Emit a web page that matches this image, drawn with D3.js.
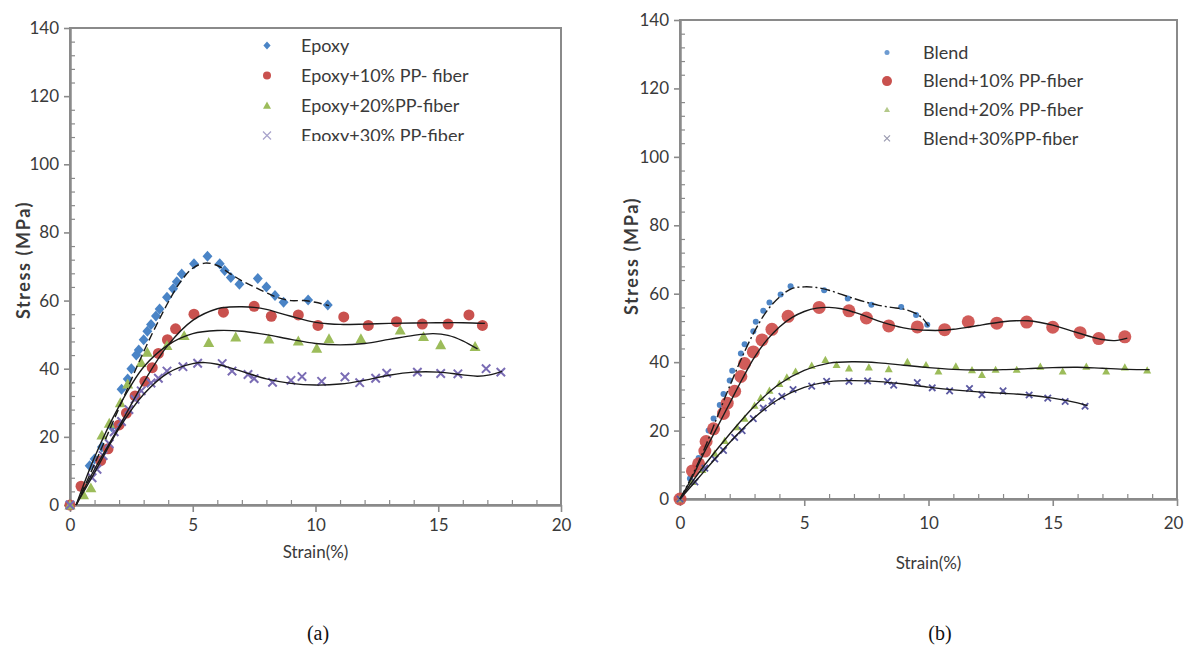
<!DOCTYPE html>
<html>
<head>
<meta charset="utf-8">
<script src="https://cdn.jsdelivr.net/npm/d3@7"></script>
<style>
  html, body { margin: 0; padding: 0; background: #fff; }
  svg { display: block; }
</style>
</head>
<body>
<svg id="chart" width="1185" height="646"></svg>
<script>
// ---------------- DATA ----------------
const xTicks = [0, 5, 10, 15, 20];
const yTicks = [0, 20, 40, 60, 80, 100, 120, 140];

// Panel (a) measured points  [strain %, stress MPa]
const epoxy = [[0,0],[0.8,11.5],[1.0,13.5],[1.3,17],[1.7,23],[2.1,34],[2.35,37],[2.5,40],[2.7,44],[2.8,45.5],[3.0,48.5],[3.15,51],[3.3,53],[3.5,55.5],[3.65,57.5],[3.95,61],[4.2,63.5],[4.35,65.5],[4.55,67.8],[5.05,70.8],[5.6,73],[6.1,70.8],[6.3,68.8],[6.55,66.8],[6.9,64.8],[7.65,66.5],[8.0,64],[8.35,61.5],[8.7,59.5],[9.7,60.2],[10.5,58.7]];
const epoxy10 = [[0,0],[0.45,5.5],[1.25,13],[1.55,16.5],[2.0,23.5],[2.3,27],[2.65,32],[3.05,36.3],[3.35,40.3],[3.6,44.5],[3.97,48.5],[4.3,51.7],[5.05,56],[6.25,56.6],[7.5,58.3],[8.2,55.4],[9.3,55.8],[10.1,52.7],[11.15,55.2],[12.15,52.7],[13.3,53.8],[14.35,53.1],[15.4,53.1],[16.25,55.8],[16.8,52.7]];
const epoxy20 = [[0,0],[0.55,3],[0.85,5],[1.3,20.5],[1.6,24],[2.05,30],[2.35,35.5],[2.9,41.8],[3.15,44.8],[3.95,46.8],[4.65,49.7],[5.65,47.7],[6.75,49.3],[8.1,48.7],[9.3,48.1],[10.05,46],[10.55,48.8],[11.85,48.8],[13.45,51.3],[14.4,49.4],[15.1,47],[16.5,46.5]];
const epoxy30 = [[0,0],[0.9,8],[1.1,10.5],[1.35,14.5],[1.6,18],[1.8,21.5],[2.1,24.5],[2.4,28],[2.65,31],[2.9,33.5],[3.3,35.8],[3.6,37.2],[3.95,39.3],[4.6,40.6],[5.2,41.6],[6.2,41.5],[6.6,39.3],[7.25,38.3],[7.5,37.1],[8.25,36],[9.0,36.6],[9.45,37.7],[10.25,36.3],[11.2,37.6],[11.8,35.9],[12.45,37.2],[12.9,38.7],[14.15,39],[15.1,38.6],[15.8,38.5],[16.95,40],[17.55,39]];

// Panel (a) trend lines
const epoxyFit = [[0.25,0],[1,12],[2,28.5],[3,45],[3.5,52.5],[4,59.5],[4.5,65.5],[5,69.5],[5.5,71],[6,70.3],[6.5,68],[7,65.8],[7.5,64],[8,62.3],[8.5,60.8],[9,60],[9.5,60],[10,59.5],[10.55,58.5]];
const epoxy10Fit = [[0.25,0],[1,10.5],[2,23],[3,36],[4,47],[5,54.2],[6,57.6],[6.5,58.1],[7,58.2],[7.5,58],[8,57.4],[8.5,56.4],[9,55.4],[9.5,54.4],[10,53.6],[10.5,53.2],[11,53],[12,53.1],[13,53.3],[14,53.4],[15,53.5],[16,53.5],[16.9,53.3]];
const epoxy20Fit = [[0.25,0],[1,14],[2,29],[3,40.5],[4,47],[5,50.3],[6,51.2],[7,51],[8,50],[9,48.6],[10,47.4],[11,47],[12,47.4],[13,48.6],[14,49.8],[14.8,50.3],[15.4,49.8],[16,48.2],[16.6,45.8]];
const epoxy30Fit = [[0.25,0],[1,9.5],[2,22.5],[3,32.5],[4,38.8],[5,41.5],[5.5,41.8],[6,41.3],[7,39.2],[8,37],[9,35.7],[10,35.2],[11,35.5],[12,36.6],[13,38.1],[14,39],[15,39],[16,38.2],[16.6,37.8],[17.1,38.2],[17.6,39.2]];

// Panel (b) measured points
const blend = [[0,0],[0.4,6],[0.75,12],[1.15,20],[1.35,23.5],[1.6,27.5],[1.75,30.7],[2.0,34.6],[2.1,37.5],[2.45,42.5],[2.6,45.2],[2.95,49],[3.05,51.8],[3.35,55],[3.6,57.4],[4.05,59.8],[4.45,62.2],[5.8,61],[6.75,58.6],[7.7,56.8],[8.9,56.1],[9.5,53.8],[9.95,50.9]];
const blend10 = [[0,0],[0.5,8.2],[0.75,10.3],[1.0,14],[1.05,16.8],[1.35,20.5],[1.75,25],[1.9,28],[2.2,31.5],[2.45,35.8],[2.6,39.6],[2.95,43],[3.3,46.5],[3.7,49.6],[4.35,53.4],[5.6,56],[6.8,55],[7.5,52.9],[8.4,50.6],[9.55,50.3],[10.65,49.5],[11.6,51.8],[12.75,51.4],[13.95,51.7],[15.0,50.2],[16.1,48.6],[16.85,46.9],[17.9,47.4]];
const blend20 = [[0,0],[0.5,5],[0.9,8.5],[1.4,13.3],[1.8,17],[2.3,21],[2.6,23.5],[3.0,27.3],[3.25,29.6],[3.6,31.7],[4.0,33.7],[4.3,35.6],[4.65,37.3],[5.3,39],[5.85,40.7],[6.3,39.2],[6.8,38.2],[7.6,38.5],[8.4,38],[9.15,40.1],[9.9,39.2],[10.4,37.3],[11.1,38.8],[11.75,37.7],[12.15,36.3],[12.7,37.8],[13.55,37.8],[14.5,38.7],[15.4,37.3],[16.35,38.7],[17.15,37.3],[17.9,38.5],[18.8,37.6]];
const blend30 = [[0,0],[0.6,5],[1.0,9],[1.4,11.7],[1.75,14.2],[2.2,18],[2.5,20],[2.95,23.5],[3.35,26.6],[3.7,28.6],[4.1,30],[4.55,32],[5.3,33],[5.9,34.4],[6.8,34.4],[7.55,34.5],[8.35,34.4],[8.6,33.3],[9.55,34],[10.15,32.5],[10.85,31.6],[11.65,32.3],[12.15,30.5],[13.0,31.6],[14.05,30.4],[14.8,29.5],[15.5,28.5],[16.3,27.1]];

// Panel (b) trend lines
const blendFit = [[0,0],[0.5,7],[1,15],[1.5,24],[2,33],[2.5,41.5],[3,49],[3.5,55],[4,59],[4.5,61.5],[5,62],[5.5,61.8],[6,61],[6.5,59.8],[7,58.6],[7.5,57.5],[8,56.6],[8.5,56],[9,55.5],[9.5,54.2],[9.8,52.5],[10,50.5]];
const blend10Fit = [[0,0],[0.5,6.5],[1,14],[1.5,21],[2,28],[2.5,35],[3,41.5],[3.5,46.5],[4,50.3],[4.5,53],[5,54.8],[5.5,55.8],[6,56],[6.5,55.6],[7,54.6],[7.5,53.4],[8,52],[8.5,50.9],[9,50],[9.5,49.5],[10,49.3],[10.5,49.3],[11,49.6],[11.5,50.1],[12,50.7],[12.5,51.3],[13,51.8],[13.5,52.1],[14,52.1],[14.5,51.6],[15,50.8],[15.5,49.7],[16,48.6],[16.5,47.5],[17,46.6],[17.5,46.3],[18,47]];
const blend20Fit = [[0,0],[1,10],[2,19],[3,27.2],[4,33.6],[5,37.6],[6,39.7],[7,40.1],[8,39.8],[9,39.1],[10,38.4],[11,37.9],[12,37.7],[13,37.8],[14,38.1],[15,38.4],[16,38.5],[17,38.2],[18,37.9],[18.9,37.8]];
const blend30Fit = [[0,0],[1,8.3],[2,16.5],[3,23.8],[4,29.3],[5,32.6],[6,34.3],[7,34.6],[8,34.3],[9,33.6],[10,32.7],[11,31.9],[12,31.3],[13,30.9],[14,30.4],[15,29.5],[16,28.1],[16.4,27.3]];

const labelsA = ["Epoxy", "Epoxy+10% PP- fiber", "Epoxy+20%PP-fiber", "Epoxy+30% PP-fiber"];
const labelsB = ["Blend", "Blend+10% PP-fiber", "Blend+20% PP-fiber", "Blend+30%PP-fiber"];

// ---------------- DRAW ----------------
const svg = d3.select("#chart");
const FONT = "Lato, 'Open Sans', sans-serif";
const AXIS = "#8a8a8a";
const TXT = "#3a3a3a";

function markerPath(type, s) {
  if (type === "diamond") return `M0,${-s}L${s*0.9},0L0,${s}L${-s*0.9},0Z`;
  if (type === "triangle") return `M0,${-s}L${s},${s*0.8}L${-s},${s*0.8}Z`;
  if (type === "x") return `M${-s},${-s}L${s},${s}M${s},${-s}L${-s},${s}`;
  return null;
}

function drawMarker(g, type, cx, cy, st) {
  if (type === "circle") {
    g.append("circle").attr("cx", cx).attr("cy", cy).attr("r", st.size)
      .attr("fill", st.color).attr("fill-opacity", st.opacity || 1);
  } else if (type === "x") {
    g.append("path").attr("transform", `translate(${cx},${cy})`)
      .attr("d", markerPath("x", st.size)).attr("stroke", st.color)
      .attr("stroke-width", st.sw || 2).attr("fill", "none");
  } else {
    g.append("path").attr("transform", `translate(${cx},${cy})`)
      .attr("d", markerPath(type, st.size)).attr("fill", st.color)
      .attr("fill-opacity", st.opacity || 1);
  }
}

function drawPanel(p) {
  const x = d3.scaleLinear().domain([0, 20]).range([p.x0, p.x1]);
  const y = d3.scaleLinear().domain([0, 140]).range([p.y0, p.y1]);
  const g = svg.append("g");

  // frame
  g.append("rect").attr("x", p.x0).attr("y", p.y1)
    .attr("width", p.x1 - p.x0).attr("height", p.y0 - p.y1)
    .attr("fill", "none").attr("stroke", AXIS).attr("stroke-width", 2);

  // minor ticks (inside)
  const xMinor = d3.range(1, 20).filter(v => v % 5 !== 0);
  const yMinor = d3.range(4, 140, 4).filter(v => v % 20 !== 0);
  g.append("g").attr("transform", `translate(0,${p.y0})`)
    .call(d3.axisBottom(x).tickValues(xMinor).tickSize(-5).tickFormat(""))
    .call(a => a.select(".domain").remove())
    .call(a => a.selectAll("line").attr("stroke", AXIS).attr("stroke-width", 1.2));
  g.append("g").attr("transform", `translate(${p.x0},0)`)
    .call(d3.axisLeft(y).tickValues(yMinor).tickSize(-5).tickFormat(""))
    .call(a => a.select(".domain").remove())
    .call(a => a.selectAll("line").attr("stroke", AXIS).attr("stroke-width", 1.2));

  // major axes
  const xa = g.append("g").attr("transform", `translate(0,${p.y0})`)
    .call(d3.axisBottom(x).tickValues(xTicks).tickSize(7).tickSizeOuter(0).tickPadding(p.xPad));
  const ya = g.append("g").attr("transform", `translate(${p.x0},0)`)
    .call(d3.axisLeft(y).tickValues(yTicks).tickSize(6).tickSizeOuter(0).tickPadding(5));
  [xa, ya].forEach(a => {
    a.select(".domain").attr("stroke", AXIS).attr("stroke-width", 2.5);
    a.selectAll("line").attr("stroke", AXIS).attr("stroke-width", 1.6);
    a.selectAll("text").attr("fill", TXT).style("font-family", FONT).style("font-size", "17px");
  });
  // keep the last x label of the right panel inside the window
  if (p.shiftLast) {
    xa.selectAll(".tick").filter(d => d === 20).select("text").attr("dx", -p.shiftLast);
  }

  // markers
  const mg = g.append("g");
  p.series.forEach(s => {
    s.data.forEach(d => drawMarker(mg, s.type, x(d[0]), y(d[1]), s.style));
  });

  // trend lines
  const line = d3.line().x(d => x(d[0])).y(d => y(d[1])).curve(d3.curveCatmullRom.alpha(0.5));
  p.series.forEach(s => {
    g.append("path").datum(s.fit).attr("d", line).attr("fill", "none")
      .attr("stroke", "#1a1a1a").attr("stroke-width", 1.4)
      .attr("stroke-dasharray", s.dash || null);
  });

  // axis titles
  g.append("text").attr("transform", `translate(${p.yTitleX},${p.yTitleY}) rotate(-90)`)
    .attr("text-anchor", "middle").attr("fill", TXT)
    .style("font-family", FONT).style("font-size", "18px").style("font-weight", "bold")
    .style("letter-spacing", "1.6px").text("Stress (MPa)");
  g.append("text").attr("x", (p.x0 + p.x1) / 2).attr("y", p.xTitleY)
    .attr("text-anchor", "middle").attr("fill", TXT)
    .style("font-family", FONT).style("font-size", "17px").text("Strain(%)");

  // legend
  const clipId = "clip" + p.id;
  svg.append("clipPath").attr("id", clipId).append("rect")
    .attr("x", p.legX - 20).attr("y", p.y1 + 2).attr("width", 300).attr("height", p.legClip);
  const lg = g.append("g").attr("clip-path", `url(#${clipId})`);
  p.series.forEach((s, i) => {
    const cy = p.legY + i * p.legDy;
    drawMarker(lg, s.type, p.legX, cy, s.legStyle);
    lg.append("text").attr("x", p.legTX).attr("y", cy).attr("dy", "0.35em")
      .attr("fill", TXT).style("font-family", FONT).style("font-size", p.legFont + "px")
      .text(p.labels[i]);
  });

  // caption
  svg.append("text").attr("x", p.capX).attr("y", 640).attr("text-anchor", "middle")
    .attr("fill", "#111").style("font-family", "'Liberation Serif', 'Times New Roman', serif")
    .style("font-size", "20px").text(p.caption);
}

drawPanel({
  id: "a", x0: 70, x1: 561, y0: 505, y1: 28, xPad: 7,
  yTitleX: 30, yTitleY: 260, xTitleY: 558,
  legX: 267, legTX: 301, legY: 45.5, legDy: 30, legFont: 18, legClip: 111,
  labels: labelsA, caption: "(a)", capX: 318,
  series: [
    { data: epoxy, fit: epoxyFit, type: "diamond", dash: "8,4",
      style: { color: "#4a84c6", size: 5.5 }, legStyle: { color: "#4a84c6", size: 4 } },
    { data: epoxy10, fit: epoxy10Fit, type: "circle",
      style: { color: "#c9514e", size: 5.5 }, legStyle: { color: "#c9514e", size: 4 } },
    { data: epoxy20, fit: epoxy20Fit, type: "triangle",
      style: { color: "#9cbc5a", size: 5.5 }, legStyle: { color: "#9cbc5a", size: 4 } },
    { data: epoxy30, fit: epoxy30Fit, type: "x",
      style: { color: "#7a6cb4", size: 4.2, sw: 2 }, legStyle: { color: "#a9a4cc", size: 4, sw: 1.3 } }
  ]
});

drawPanel({
  id: "b", x0: 680, x1: 1177, y0: 499, y1: 20, xPad: 11, shiftLast: 4,
  yTitleX: 638, yTitleY: 256, xTitleY: 569,
  legX: 887, legTX: 923, legY: 52.5, legDy: 28.6, legFont: 18, legClip: 135,
  labels: labelsB, caption: "(b)", capX: 940,
  series: [
    { data: blend, fit: blendFit, type: "circle", dash: "10,3,2,3",
      style: { color: "#4f86c6", size: 3 }, legStyle: { color: "#6d9bd1", size: 2.5 } },
    { data: blend10, fit: blend10Fit, type: "circle",
      style: { color: "#cc4a47", size: 6.5, opacity: 0.9 }, legStyle: { color: "#c9514e", size: 5 } },
    { data: blend20, fit: blend20Fit, type: "triangle",
      style: { color: "#9cbc5a", size: 4 }, legStyle: { color: "#b4c98a", size: 3 } },
    { data: blend30, fit: blend30Fit, type: "x",
      style: { color: "#5a58a0", size: 3.2, sw: 1.8 }, legStyle: { color: "#9a9ab0", size: 3, sw: 1.2 } }
  ]
});
</script>
</body>
</html>
